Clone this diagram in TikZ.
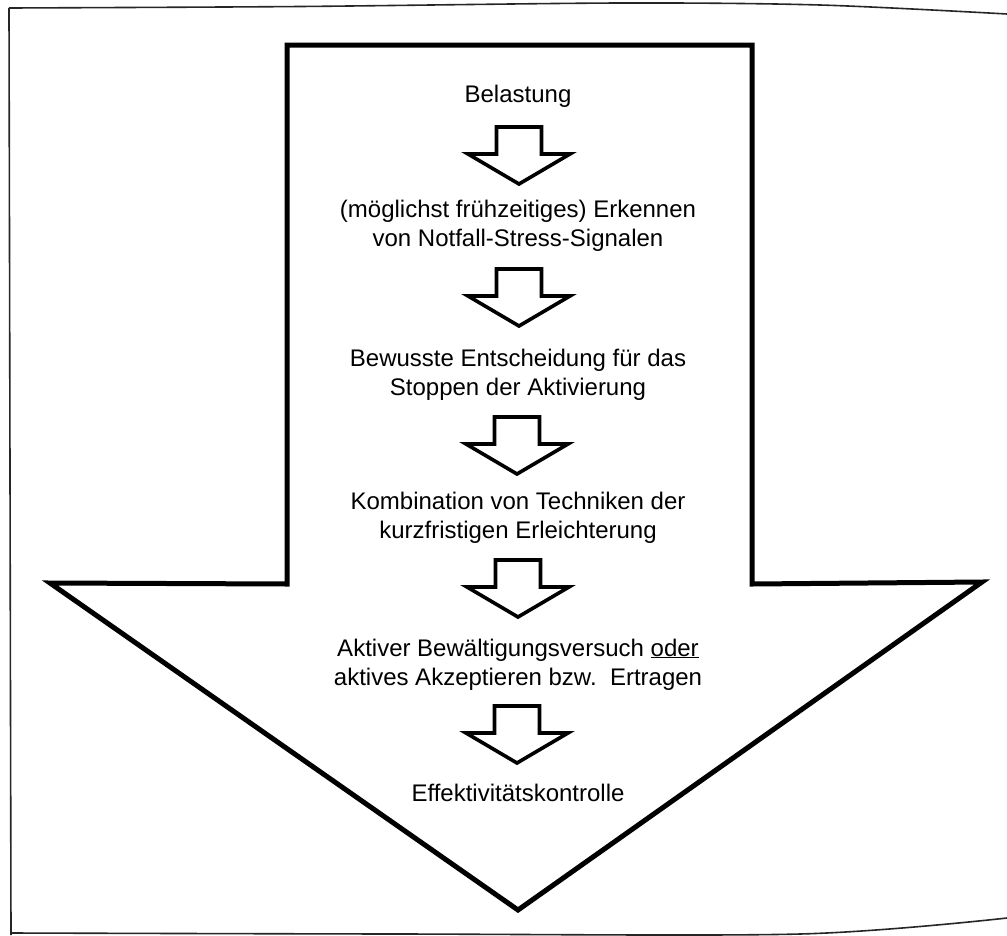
\documentclass[tikz,border=0pt]{standalone}
\usepackage{fontspec}
\setmainfont{Liberation Sans}
\begin{document}
\begin{tikzpicture}[x=1pt,y=-1pt,
  bigarrow/.style={draw=black,line width=5pt,line join=miter,fill=white},
  frameline/.style={draw=black!85,line width=1.6pt},
  steptext/.style={anchor=base,align=center,inner sep=0pt,
    font=\fontsize{24}{29}\selectfont},
  smallarrow/.pic={
    \draw[line width=3.6pt,line join=miter,fill=white]
      (-22.5,0) -- (22.5,0) -- (22.5,27) -- (51,27) -- (0,57)
      -- (-51,27) -- (-22.5,27) -- cycle;
  }]
\useasboundingbox (0,0) rectangle (1007,935);

% page frame
\draw[frameline] plot[smooth] coordinates {(9,8) (300,6.5) (620,3) (820,5) (1007,14)};
\draw[frameline] (9,8) -- (11,935);
\draw[frameline] plot[smooth] coordinates {(11,933) (400,934) (800,934) (1007,918)};

% large downward arrow
\draw[bigarrow] (287,45) -- (752,45) -- (752,584) -- (982,582) -- (518,910)
  -- (50,583) -- (287,584) -- cycle;

% steps (the base anchor sits on the last line's baseline)
\node[steptext] (s1) at (518,102) {Belastung};
\node[steptext] (s2) at (518,246) {(möglichst frühzeitiges) Erkennen\\von Notfall-Stress-Signalen};
\node[steptext] (s3) at (518,395) {Bewusste Entscheidung für das\\Stoppen der Aktivierung};
\node[steptext] (s4) at (518,538) {Kombination von Techniken der\\kurzfristigen Erleichterung};
\node[steptext] (s5) at (518,685) {Aktiver Bewältigungsversuch \underline{oder}\\aktives Akzeptieren bzw.\ \ Ertragen};
\node[steptext] (s6) at (518,801) {Effektivitätskontrolle};

% block arrows between the steps
\pic at (519,127) {smallarrow};
\pic at (519,269) {smallarrow};
\pic at (517,417) {smallarrow};
\pic at (518,560) {smallarrow};
\pic at (517,706) {smallarrow};
\end{tikzpicture}
\end{document}
